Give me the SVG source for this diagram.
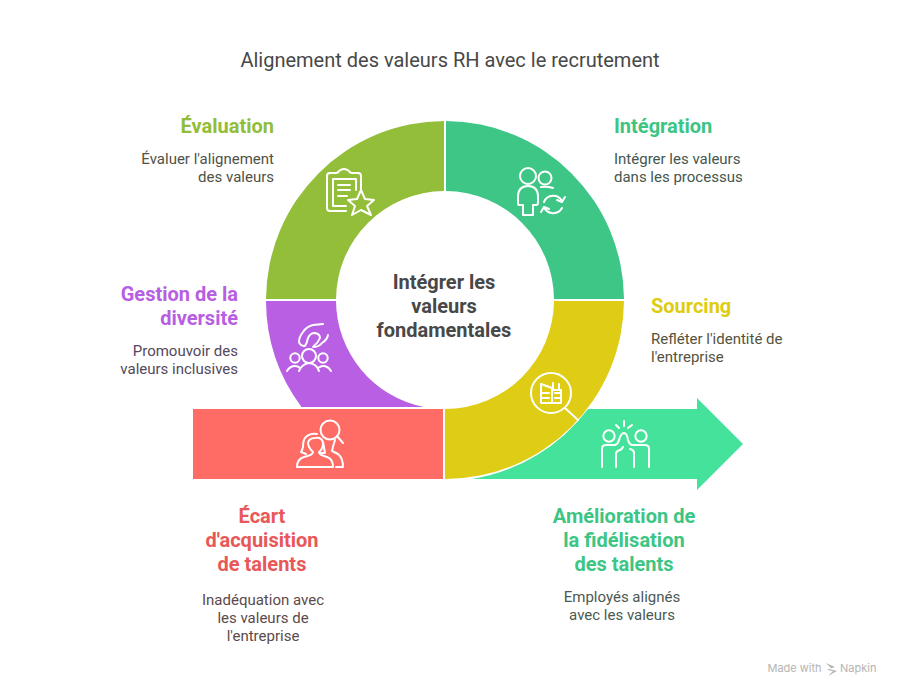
<svg xmlns="http://www.w3.org/2000/svg" width="900" height="696" viewBox="0 0 900 696">
<style>
text{font-family:Roboto,"Liberation Sans",sans-serif}
.t{font-size:20px;font-weight:700}
.d{font-size:15px}
.c{font-size:20px;font-weight:700;fill:#484848;text-anchor:middle}
.m{text-anchor:middle}.e{text-anchor:end}
.i{fill:none;stroke:#fff;stroke-width:2;stroke-linecap:round;stroke-linejoin:round}
</style>
<rect width="900" height="696" fill="#fff"/>
<text x="450" y="66.500" class="m" font-size="20" fill="#484848">Alignement des valeurs RH avec le recrutement</text>
<g id="connectors"></g>
<g id="amelioration">
<path d="M472 479A181 181 0 0 0 588 409H697V398L743 444L697 490V479Z" fill="#45E29B"/>
<g class="i">
<circle cx="609" cy="436" r="5.700"/><circle cx="641" cy="436" r="5.700"/>
<path d="M602 467V449Q602 445 606 445H615Q618 444 619 440Q621 433 624 433Q627 433 628 440Q629 444 632 445H645Q649 445 649 449V467"/>
<path d="M616 467V454Q616 451 620 450Q622 449 623 447"/><path d="M634 467V453Q634 450 630 449"/>
<path d="M624 421V426M616 425L619 428M632 425L628 428"/>
</g>
<text x="624" y="523" class="t m" fill="#3CC583">Amélioration de</text>
<text x="624" y="547" class="t m" fill="#3CC583">la fidélisation</text>
<text x="624" y="571" class="t m" fill="#3CC583">des talents</text>
<text x="622" y="602" class="d m" fill="#4A5A52">Employés alignés</text>
<text x="622" y="620" class="d m" fill="#4A5A52">avec les valeurs</text>
</g>
<g id="evaluation">
<path d="M266 299A179 179 0 0 1 444 121V191A109 109 0 0 0 336 299Z" fill="#93BE39"/>
<g class="i">
<path d="M346 211H330Q327 211 327 208V176Q327 173 330 173H336Q338 173 339 171Q344 167 349 171Q350 173 352 173H358Q361 173 361 176V189"/>
<path d="M346 206H333V179H356V190"/>
<path d="M338 185H350M338 190H350M338 196H347"/>
<path d="M361 190L365 199L374 200L367 206L371 215L361 210L352 215L355 206L348 200L357 199Z"/>
</g>
<text x="274" y="133" class="t e" fill="#92BD39">Évaluation</text>
<text x="274" y="164" class="d e" fill="#4F5245">Évaluer l'alignement</text>
<text x="274" y="182" class="d e" fill="#4F5245">des valeurs</text>
</g>
<g id="integration">
<path d="M446 121A179 179 0 0 1 624 299H554A109 109 0 0 0 446 191Z" fill="#3EC686"/>
<g class="i">
<circle cx="528" cy="176" r="8"/><circle cx="545" cy="178" r="6.500"/>
<path d="M541 187Q547 186 553 188"/>
<path d="M523 215V205H519Q518 205 518 203V197Q518 186 528 186Q538 186 538 197V203Q538 205 536 205H533V215Z"/>
<path d="M544 202A10 10 0 0 1 562 201M565 197L562 202L557 200"/>
<path d="M562 208A10 10 0 0 1 544 207M541 212L544 207L549 209"/>
</g>
<text x="614" y="133" class="t" fill="#3CC583">Intégration</text>
<text x="614" y="164" class="d" fill="#45574E">Intégrer les valeurs</text>
<text x="614" y="182" class="d" fill="#45574E">dans les processus</text>
</g>
<g id="diversite">
<path d="M266 301H336A109 109 0 0 0 424 407H301.500A179 179 0 0 1 266 301Z" fill="#B85FE4"/>
<g class="i">
<path d="M323 324L313 325Q306 327 303 332Q299 337 299 342Q300 346 305 346Q307 343 308 338Q310 333 315 333Q320 334 320 338Q318 343 313 347Q319 347 322 343Q327 340 328 335"/>
<circle cx="309" cy="356" r="7"/><circle cx="295" cy="358" r="4.700"/><circle cx="323" cy="358" r="4.700"/>
<path d="M299 371Q302 364 309 363Q317 364 319 371M287 371Q290 366 295 366Q298 366 300 368M318 368Q321 366 323 366Q328 366 331 371"/>
</g>
<text x="238" y="301" class="t e" fill="#B75EE2">Gestion de la</text>
<text x="238" y="325" class="t e" fill="#B75EE2">diversité</text>
<text x="238" y="356" class="d e" fill="#54485C">Promouvoir des</text>
<text x="238" y="374" class="d e" fill="#54485C">valeurs inclusives</text>
</g>
<g id="sourcing">
<path d="M624 301A179 179 0 0 1 445 479V409A109 109 0 0 0 554 301Z" fill="#DFCC14"/>
<g class="i">
<circle cx="551" cy="393" r="20"/>
<path d="M565 408L578 420"/>
<path d="M541 384L552 388V403H541ZM552 390H561V403H552M541 393H549M541 398H549M555 393H561M555 398H560M553 389V383M559 390V384"/>
</g>
<text x="651" y="313" class="t" fill="#DECC11">Sourcing</text>
<text x="651" y="344" class="d" fill="#55533D">Refléter l'identité de</text>
<text x="651" y="362" class="d" fill="#55533D">l'entreprise</text>
</g>
<g id="ecart">
<rect x="193" y="409" width="250" height="70" fill="#FF6B65"/>
<g class="i">
<circle cx="330" cy="430" r="9.500"/><path d="M337 436L343 443"/>
<path d="M297 467Q297 459 304 457Q313 455 313 452Q308 447 308 443Q309 438 315 438Q322 437 323 443Q323 449 319 452Q319 455 327 457Q333 459 333 467Z"/>
<path d="M317 434Q309 433 305 438Q303 441 303 447Q302 451 301 452L306 454"/>
<path d="M323 442L325 453L320 453M335 440Q333 446 332 451L338 454Q343 458 343 467H336"/>
</g>
<text x="262" y="523" class="t m" fill="#E85858">Écart</text>
<text x="262" y="547" class="t m" fill="#E85858">d'acquisition</text>
<text x="262" y="571" class="t m" fill="#E85858">de talents</text>
<text x="263" y="605" class="d m" fill="#5C4A4A">Inadéquation avec</text>
<text x="263" y="623" class="d m" fill="#5C4A4A">les valeurs de</text>
<text x="263" y="641" class="d m" fill="#5C4A4A">l'entreprise</text>
</g>
<g id="centre">
<text x="444" y="289" class="c">Intégrer les</text>
<text x="444" y="313" class="c">valeurs</text>
<text x="444" y="337" class="c">fondamentales</text>
</g>
<g id="credit" fill="#b4b4b4">
<text x="767.500" y="672" font-size="11" style="font-family:Inter,Roboto,sans-serif">Made with</text>
<path d="M826 663L835 667L829 669L837 671L828 676L833 671L827 670L831 668Z"/>
<text x="840" y="672" font-size="11" style="font-family:Inter,Roboto,sans-serif">Napkin</text>
</g>
</svg>
